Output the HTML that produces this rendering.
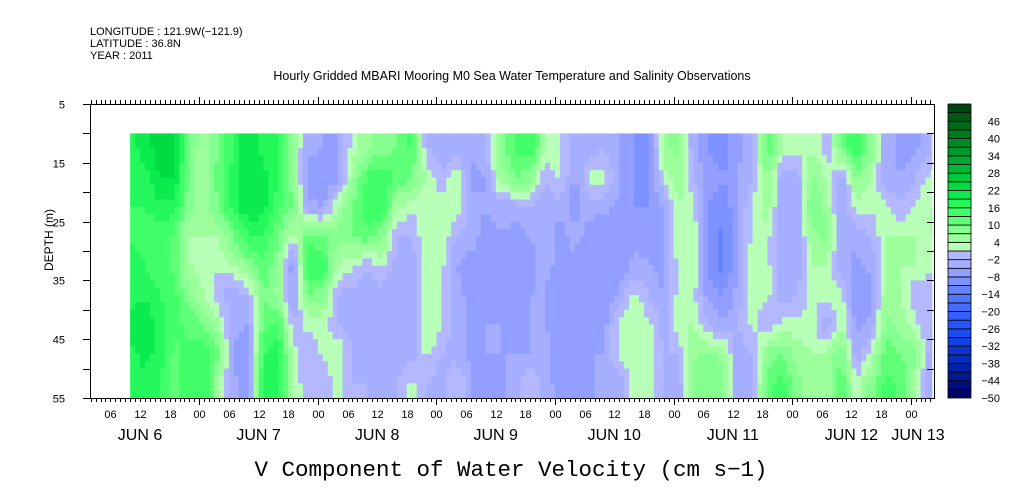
<!DOCTYPE html>
<html><head><meta charset="utf-8"><style>
body{margin:0;background:#fff;}
svg{display:block;font-family:"Liberation Sans",sans-serif;}
</style></head><body>
<svg id="chart" width="1009" height="504" viewBox="0 0 1009 504" xmlns="http://www.w3.org/2000/svg">
<g font-size="11" fill="#000">
<text x="90" y="35">LONGITUDE : 121.9W(−121.9)</text>
<text x="90" y="47">LATITUDE : 36.8N</text>
<text x="90" y="59">YEAR : 2011</text>
</g>
<text x="512" y="80" text-anchor="middle" font-size="12.5">Hourly Gridded MBARI Mooring M0 Sea Water Temperature and Salinity Observations</text>
<g id="cells"></g>
<g id="axes"></g>
<g id="cbar"></g>
<text x="53" y="240" transform="rotate(-90 53 240)" text-anchor="middle" font-size="12">DEPTH (m)</text>
<text x="511" y="476" text-anchor="middle" font-family="Liberation Mono, monospace" font-size="22.5">V Component of Water Velocity (cm s−1)</text>
</svg>
<script>
// data: time (hours since Jun 6 00:00) of each column, depth-band centers, values per column (top->bottom)
const timeHours=[];for(let k=0;k<55;k++)timeHours.push(10+3*k);
const depthCenters=[12.5,17.5,22.5,27.5,32.5,37.5,42.5,47.5,52.5];
const columns=[
[18,18,16,16,18,18,20,18,18],[20,18,16,14,16,18,22,20,18],[24,22,18,14,14,16,18,18,16],[24,22,18,12,12,14,14,12,12],
[10,8,8,4,4,8,12,14,14],[4,4,6,4,2,4,10,16,16],[10,12,10,4,2,-2,4,10,4],[16,18,18,10,4,-4,-4,-6,-4],
[22,22,22,16,8,-2,-5,-8,-8],[18,20,20,16,12,10,12,16,18],[16,16,14,10,8,6,14,18,18],[6,8,10,2,-8,-6,-2,2,4],
[-4,-8,-4,12,16,10,2,-2,-2],[-5,-8,-5,10,16,8,2,2,-2],[-6,-6,4,8,4,-2,-2,4,2],[2,6,10,10,2,-4,-4,-2,-2],
[6,14,16,12,-2,-4,-4,-4,-2],[8,16,16,8,2,-4,-4,-4,-4],[10,12,4,-2,-4,-4,-4,-4,-2],[14,10,2,-2,-4,-5,-5,-4,2],
[-2,4,2,4,4,4,4,2,-2],[-4,-2,4,4,2,2,2,-2,-4],[-4,4,4,-2,-5,-4,-4,-4,2],[-4,-6,-4,-4,-6,-6,-6,-6,-5],
[-2,-5,-5,-6,-6,-6,-5,-5,-8],[8,6,-4,-5,-8,-8,-5,-5,-6],[14,10,-4,-6,-5,-5,-6,-5,-4],[16,8,-2,-5,-6,-5,-5,-5,2],
[4,-2,-4,-4,-4,-5,-5,-4,-4],[2,2,-4,-6,-6,-8,-6,-8,-6],[-4,-6,-6,-4,-6,-6,-6,-6,-8],[-4,2,-4,-6,-8,-8,-6,-5,-6],
[-2,2,-4,-8,-8,-8,-6,-5,-4],[-5,-5,-6,-6,-8,-4,2,2,-4],[-8,-8,-8,-6,-4,2,4,4,2],[-10,-10,-8,-6,-5,-2,2,4,2],
[6,2,-5,-6,-6,-5,-4,-2,-2],[8,6,4,4,2,2,4,-2,-4],[-4,-2,2,4,4,2,4,6,8],[-8,-6,-8,-8,-10,-6,-2,8,10],
[-10,-8,-10,-12,-12,-8,-5,6,8],[-6,-5,-6,-6,-5,-4,-2,-4,-4],[-2,-2,2,2,4,2,2,-2,-4],[12,8,6,2,2,2,-2,8,12],
[4,-4,-4,-5,-4,-4,2,10,14],[2,-4,-5,-4,-4,-2,2,6,8],[4,8,10,6,4,2,2,4,4],[-2,4,6,8,4,2,-4,4,6],
[10,-4,-5,-4,-4,2,4,10,12],[16,8,2,-4,-6,-8,-6,-4,2],[8,4,2,-2,-4,-6,-4,2,8],[-4,-4,2,4,4,6,8,12,14],
[-6,-5,-2,4,4,4,6,10,12],[-6,-2,2,4,4,-2,2,8,4],[-2,2,4,4,2,-2,-2,-4,-4]];
const levelMin=-50, levelStep=3, levelCount=34;
const cbarLabels=[46,40,34,28,22,16,10,4,-2,-8,-14,-20,-26,-32,-38,-44,-50];
const hourLabels=["06","12","18","00"];
const dayNames=["JUN  6","JUN  7","JUN  8","JUN  9","JUN 10","JUN 11","JUN 12","JUN 13"];

const NS="http://www.w3.org/2000/svg";
const X0=90,X1=934,Y0=104,Y1=398;
const xS=h=>199.3+(h-24)*4.94;
const yS=d=>Y0+(d-5)*(Y1-Y0)/50;
function hex(c){return [parseInt(c.slice(1,3),16),parseInt(c.slice(3,5),16),parseInt(c.slice(5,7),16)];}
const stops=[[-50,"#00005a"],[-38,"#0028b0"],[-26,"#1e50ff"],[-14,"#5a7aff"],[-8,"#8898ff"],[-3,"#a8b0ff"],[-0.5,"#b4b8ff"],
[2.5,"#b8ffb8"],[5.5,"#9cff9c"],[8.5,"#84ff90"],[11.5,"#60ff78"],[16,"#30ff60"],[22,"#00e448"],[28,"#00c038"],[34,"#00a030"],[40,"#008020"],[46,"#006018"],[52,"#003c10"]];
function stopColor(v){
  if(v<=stops[0][0])return stops[0][1];
  for(let i=1;i<stops.length;i++){if(v<=stops[i][0]){const a=stops[i-1],b=stops[i];
    if(a[0]<0&&b[0]>0)return v<0?a[1]:b[1];
    const t=(v-a[0])/(b[0]-a[0]);const ca=hex(a[1]),cb=hex(b[1]);
    return "rgb("+ca.map((x,j)=>Math.round(x+(cb[j]-x)*t)).join(",")+")";}}
  return stops[stops.length-1][1];
}
function levelColor(v){let i=Math.floor((v-levelMin)/levelStep);i=Math.max(0,Math.min(levelCount-1,i));return stopColor(levelMin+(i+0.5)*levelStep);}

const cells=document.getElementById('cells');
function val(h,d){
  let fi=(h-timeHours[0])/3, fj=(d-depthCenters[0])/5;
  fi=Math.max(0,Math.min(timeHours.length-1,fi)); fj=Math.max(0,Math.min(depthCenters.length-1,fj));
  const i0=Math.min(Math.floor(fi),timeHours.length-2), j0=Math.min(Math.floor(fj),depthCenters.length-2);
  const ti=fi-i0,tj=fj-j0;
  const a=columns[i0][j0],b=columns[i0+1][j0],c=columns[i0][j0+1],e=columns[i0+1][j0+1];
  return (a*(1-ti)+b*ti)*(1-tj)+(c*(1-ti)+e*ti)*tj;
}
const hStart=timeHours[0], hEnd=timeHours[timeHours.length-1]+0.5;
const subH=1, subD=1.25;
for(let h=hStart;h<hEnd;h+=subH){
  const xa=xS(h), xb=Math.min(xS(Math.min(h+subH,hEnd)),932);
  for(let d=10;d<55;d+=subD){
    const r=document.createElementNS(NS,'rect');
    r.setAttribute('x',xa.toFixed(2));r.setAttribute('y',yS(d).toFixed(2));
    r.setAttribute('width',(xb-xa+0.4).toFixed(2));r.setAttribute('height',(yS(d+subD)-yS(d)+0.4).toFixed(2));
    r.setAttribute('fill',levelColor(val(h+subH/2,d+subD/2)));
    
    
    cells.appendChild(r);
  }
}
// axes
const ax=document.getElementById('axes');
function line(x1,y1,x2,y2,g,name){const l=document.createElementNS(NS,'line');l.setAttribute('x1',x1);l.setAttribute('y1',y1);l.setAttribute('x2',x2);l.setAttribute('y2',y2);l.setAttribute('stroke','#000');l.setAttribute('stroke-width','1');


g.appendChild(l);}
function text(x,y,s,g,name,size,anchor){const t=document.createElementNS(NS,'text');t.setAttribute('x',x);t.setAttribute('y',y);t.setAttribute('font-size',size);t.setAttribute('text-anchor',anchor||'middle');t.textContent=s;


g.appendChild(t);}
const fr=document.createElementNS(NS,'rect');fr.setAttribute('x',X0+0.5);fr.setAttribute('y',Y0+0.5);fr.setAttribute('width',X1-X0);fr.setAttribute('height',Y1-Y0);fr.setAttribute('fill','none');fr.setAttribute('stroke','#000');


ax.appendChild(fr);
for(let h=2;h<=172;h++){const x=Math.round(xS(h))+0.5;if(x<X0||x>X1)continue;const major=h%24===0;
  line(x,Y1,x,Y1+(major?7:4),ax,'x-tick');line(x,Y0,x,Y0-(major?7:4),ax,'x-tick-top');
  if(h%6===0)text(x,418,hourLabels[(h/6-1)%4],ax,'x-hour-label',11);}
dayNames.forEach((n,i)=>{let x=xS(12+24*i);if(i===7)x=918;text(x,440,n,ax,'x-day-label',16);});
for(let d=5;d<=55;d+=5){const y=Math.round(yS(d))+0.5;line(X0-7,y,X0,y,ax,'y-tick');line(X1-7,y,X1,y,ax,'y-tick-right');
  if(d%10===5)text(X0-25,y+4,String(d),ax,'y-tick-label',11,'end');}
// colorbar
const cb=document.getElementById('cbar');const CX=948,CW=23;
for(let i=0;i<levelCount;i++){const y0=Y0+(levelCount-1-i)*(Y1-Y0)/levelCount;const r=document.createElementNS(NS,'rect');
  r.setAttribute('x',CX);r.setAttribute('y',y0.toFixed(2));r.setAttribute('width',CW);r.setAttribute('height',((Y1-Y0)/levelCount).toFixed(2));
  r.setAttribute('fill',levelColor(levelMin+i*levelStep+1));r.setAttribute('stroke','#000');r.setAttribute('stroke-width','0.8');
  
  
  cb.appendChild(r);}
cbarLabels.forEach(v=>{const y=Y0+(52-v)*(Y1-Y0)/102;text(1000,y+4,v<0?'−'+(-v):String(v),cb,'colorbar-label',11,'end');});
</script>
</body></html>
